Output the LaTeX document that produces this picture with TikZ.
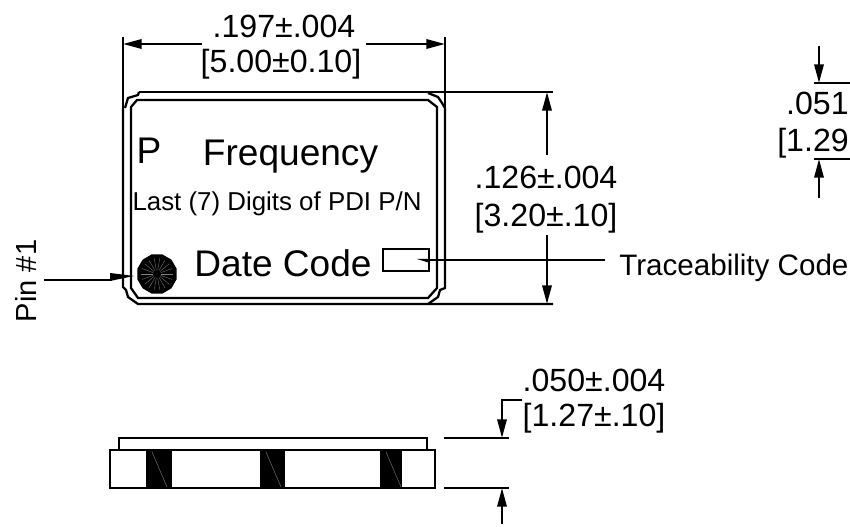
\documentclass[tikz,border=0pt]{standalone}
\usepackage{fontspec}
\setmainfont{Liberation Sans}
\usetikzlibrary{arrows.meta,shapes.geometric}
\tikzset{
    dimline/.style={black, line width=1.7pt},
    dimarrow/.style={dimline, -{Triangle[length=14pt,width=7pt]}},
    dimtext/.style={font=\fontsize{24.1}{25}\selectfont, inner sep=0pt},
    marktext/.style={font=\fontsize{27.8}{28}\selectfont, inner sep=0pt},
}

\begin{document}
\begin{tikzpicture}[x=0.75pt, y=-0.75pt]
    \useasboundingbox (0,0) rectangle (850,527);

    % Package outline
    \draw[dimline] (125,108) -- (128,98) -- (138,95) -- (139,92);
    \draw[dimline] (428,93) -- (438,97) -- (442,103) -- (445,108);
    \draw[dimline] (123,108) -- (123,287) -- (126,290) -- (128,297) -- (138,304) -- (553,304);
    \draw[dimline] (445,108) -- (445,288) -- (440,290) -- (438,297) -- (428,304);
    \draw[dimline] (137,100) -- (428,100) -- (437,107) -- (437,288) -- (428,298)
        -- (138,298) -- (131,288) -- (131,107) -- cycle;

    % Extension lines
    \draw[dimline] (123,37) -- (123,108);
    \draw[dimline] (445,37) -- (445,108);
    \draw[dimline] (139,92) -- (553,92);

    % Width
    \draw[dimarrow] (202,44) -- (123,44);
    \draw[dimarrow] (366,44) -- (445,44);
    \node[dimtext] (widthin) at (284,26) {.197±.004};
    \node[dimtext] (widthmm) at (281,64) {[5.00±0.10]};

    % Height
    \draw[dimarrow] (547,155) -- (547,92);
    \draw[dimarrow] (547,235) -- (547,304);
    \node[dimtext] (heightin) at (546,177) {.126±.004};
    \node[dimtext] (heightmm) at (546,218) {[3.20±.10]};

    % Marking
    \node[marktext] (markp) at (149,151) {P};
    \node[marktext] (markfreq) at (290.5,157) {Frequency};
    \node[font=\fontsize{19.4}{20}\selectfont, inner sep=0pt] (markpn) at (277,204) {Last (7) Digits of PDI P/N};
    \node[marktext] (markdate) at (283,263) {Date Code};
    \node[draw, line width=1.7pt, minimum width=34pt, minimum height=17pt, inner sep=0pt] (tracebox) at (406,260) {};

    % Pin dot
    \node[regular polygon, regular polygon sides=12, fill=black, minimum size=30.5pt, inner sep=0pt] (pindot) at (157,274) {};
    \foreach \a in {0,20,...,340} {
        \draw[gray, line width=0.25pt] (157,274) ++(\a:4) -- ++(\a:12);
    }

    % Pin leader
    \node[font=\fontsize{21.8}{22}\selectfont, inner sep=0pt, rotate=90] (pinlabel) at (26,281) {Pin \#1};
    \draw[dimline] (44,280) -- (112,280);
    \fill (110,273) -- (134,276) -- (110,281) -- cycle;

    % Traceability leader
    \node[font=\fontsize{22.2}{22}\selectfont, inner sep=0pt, anchor=west] (tracelabel) at (619,268) {Traceability Code};
    \draw[dimline] (605,260) -- (424,260);
    \fill (417,259) -- (430,259) -- (430,263) -- cycle;

    % Right dimension
    \draw[dimline] (814,83) -- (850,83);
    \draw[dimline] (814,159) -- (850,159);
    \draw[dimarrow] (819,46) -- (819,83);
    \draw[dimarrow] (819,198) -- (819,159);
    \node[dimtext, anchor=east] (depthin) at (849,103) {.051};
    \node[dimtext, anchor=east] (depthmm) at (849,143) {[1.29};

    % Side view
    \draw[dimline] (119,450) -- (119,438) -- (427,438) -- (427,450);
    \foreach \x/\w in {146/26, 260/25, 380/22} {
        \fill (\x,450) rectangle ++(\w,38);
        \draw[gray, line width=0.3pt] (\x+6,452) -- (\x+21,487);
    }
    \draw[dimline] (110,450) rectangle (435,488);

    % Side view thickness
    \draw[dimline] (444,438) -- (509,438);
    \draw[dimline] (444,488) -- (509,488);
    \draw[dimarrow] (522,400) -- (502,400) -- (502,438);
    \draw[dimarrow] (502,524) -- (502,488);
    \node[dimtext] (thickin) at (594,380) {.050±.004};
    \node[dimtext] (thickmm) at (594,418) {[1.27±.10]};
\end{tikzpicture}
\end{document}
